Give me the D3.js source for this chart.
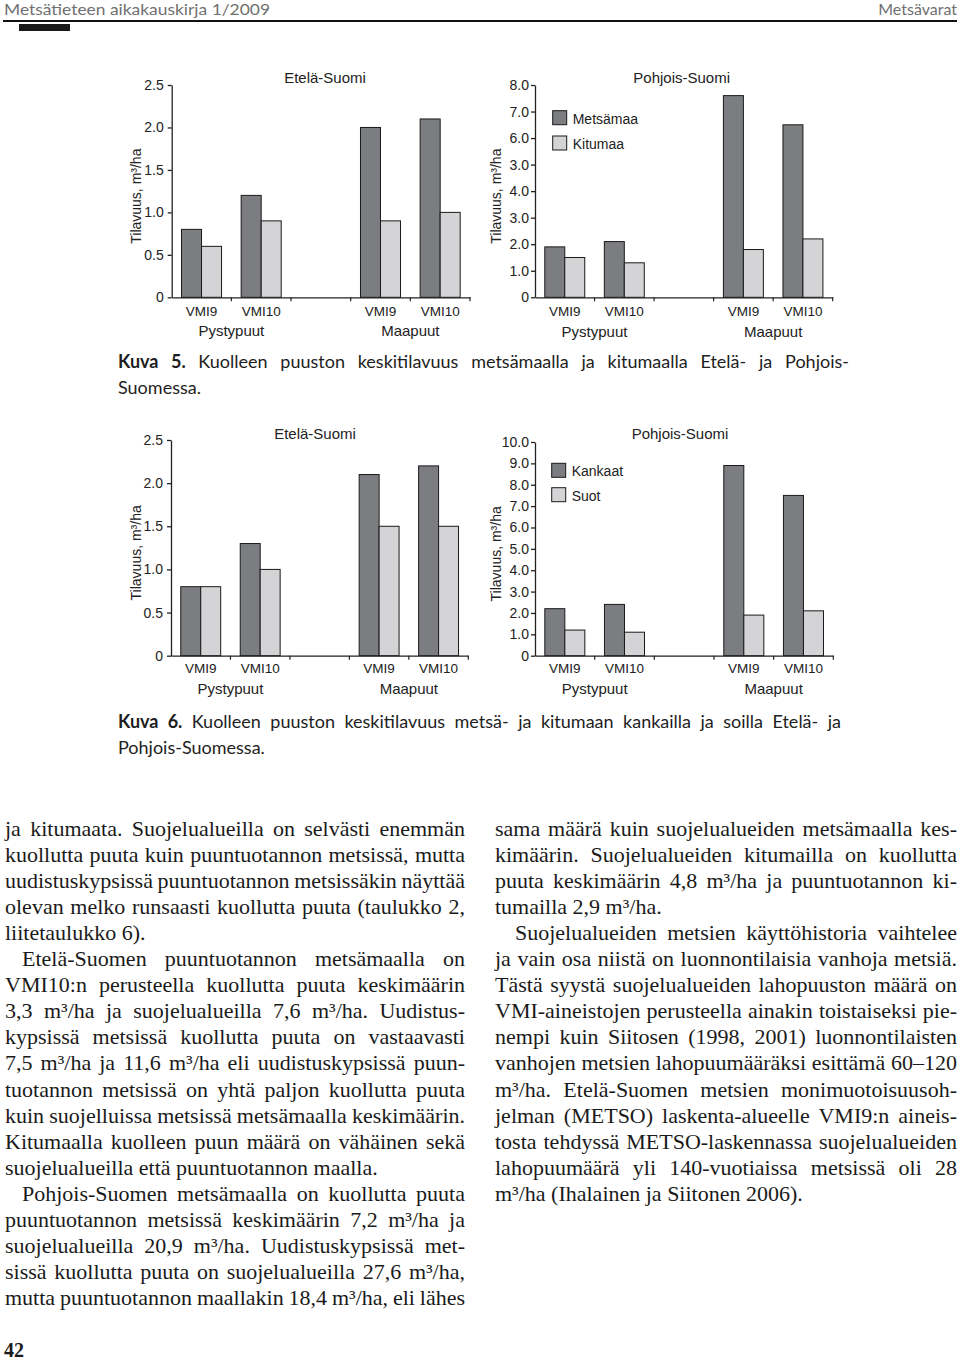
<!DOCTYPE html>
<html>
<head>
<meta charset="utf-8">
<script src="https://cdn.jsdelivr.net/npm/d3@7"></script>
<style>
  body { margin: 0; background: #fff; }
  svg { display: block; }
</style>
</head>
<body>
<svg id="page" width="960" height="1360"></svg>
<script>
// Category slots on the x axis (third slot is the empty gap between groups)
const slots = ['p9', 'p10', 'gap', 'm9', 'm10'];
const slotLabels = ['VMI9', 'VMI10', '', 'VMI9', 'VMI10'];
const groupLabels = ['Pystypuut', 'Maapuut'];
const groupSlots = [['p9', 'p10'], ['m9', 'm10']];

// Kuva 5: metsämaa / kitumaa, m³/ha
const k5EtelaMetsamaa = [0.8, 1.2, null, 2.0, 2.1];
const k5EtelaKitumaa = [0.6, 0.9, null, 0.9, 1.0];
const k5PohjoisMetsamaa = [1.9, 2.1, null, 7.6, 6.5];
const k5PohjoisKitumaa = [1.5, 1.3, null, 1.8, 2.2];
const k5Series = ['Metsämaa', 'Kitumaa'];

// Kuva 6: kankaat / suot, m³/ha
const k6EtelaKankaat = [0.8, 1.3, null, 2.1, 2.2];
const k6EtelaSuot = [0.8, 1.0, null, 1.5, 1.5];
const k6PohjoisKankaat = [2.2, 2.4, null, 8.9, 7.5];
const k6PohjoisSuot = [1.2, 1.1, null, 1.9, 2.1];
const k6Series = ['Kankaat', 'Suot'];

// Tick values and labels as printed (the "3.0" at 5 is in the original)
const etelaTicks = [0, 0.5, 1, 1.5, 2, 2.5];
const etelaTickLabels = ['0', '0.5', '1.0', '1.5', '2.0', '2.5'];
const k5PohjoisTicks = [0, 1, 2, 3, 4, 5, 6, 7, 8];
const k5PohjoisTickLabels = ['0', '1.0', '2.0', '3.0', '4.0', '3.0', '6.0', '7.0', '8.0'];
const k6PohjoisTicks = [0, 1, 2, 3, 4, 5, 6, 7, 8, 9, 10];
const k6PohjoisTickLabels = ['0', '1.0', '2.0', '3.0', '4.0', '5.0', '6.0', '7.0', '8.0', '9.0', '10.0'];

// Body text, line by line as set on the page
const leftColumn = [
  'ja kitumaata. Suojelualueilla on selvästi enemmän',
  'kuollutta puuta kuin puuntuotannon metsissä, mutta',
  'uudistuskypsissä puuntuotannon metsissäkin näyttää',
  'olevan melko runsaasti kuollutta puuta (taulukko 2,',
  'liitetaulukko 6).',
  'Etelä-Suomen puuntuotannon metsämaalla on',
  'VMI10:n perusteella kuollutta puuta keskimäärin',
  '3,3 m³/ha ja suojelualueilla 7,6 m³/ha. Uudistus-',
  'kypsissä metsissä kuollutta puuta on vastaavasti',
  '7,5 m³/ha ja 11,6 m³/ha eli uudistuskypsissä puun-',
  'tuotannon metsissä on yhtä paljon kuollutta puuta',
  'kuin suojelluissa metsissä metsämaalla keskimäärin.',
  'Kitumaalla kuolleen puun määrä on vähäinen sekä',
  'suojelualueilla että puuntuotannon maalla.',
  'Pohjois-Suomen metsämaalla on kuollutta puuta',
  'puuntuotannon metsissä keskimäärin 7,2 m³/ha ja',
  'suojelualueilla 20,9 m³/ha. Uudistuskypsissä met-',
  'sissä kuollutta puuta on suojelualueilla 27,6 m³/ha,',
  'mutta puuntuotannon maallakin 18,4 m³/ha, eli lähes'
];
const leftIndent = [5, 14];
const leftLast = [4, 13];

const rightColumn = [
  'sama määrä kuin suojelualueiden metsämaalla kes-',
  'kimäärin. Suojelualueiden kitumailla on kuollutta',
  'puuta keskimäärin 4,8 m³/ha ja puuntuotannon ki-',
  'tumailla 2,9 m³/ha.',
  'Suojelualueiden metsien käyttöhistoria vaihtelee',
  'ja vain osa niistä on luonnontilaisia vanhoja metsiä.',
  'Tästä syystä suojelualueiden lahopuuston määrä on',
  'VMI-aineistojen perusteella ainakin toistaiseksi pie-',
  'nempi kuin Siitosen (1998, 2001) luonnontilaisten',
  'vanhojen metsien lahopuumääräksi esittämä 60–120',
  'm³/ha. Etelä-Suomen metsien monimuotoisuusoh-',
  'jelman (METSO) laskenta-alueelle VMI9:n aineis-',
  'tosta tehdyssä METSO-laskennassa suojelualueiden',
  'lahopuumäärä yli 140-vuotiaissa metsissä oli 28',
  'm³/ha (Ihalainen ja Siitonen 2006).'
];
const rightIndent = [4];
const rightLast = [3, 14];

const svg = d3.select('#page');
const sans = '"Liberation Sans", Arial, sans-serif';
const serif = '"Liberation Serif", "Times New Roman", serif';
const caption = 'Lato, "Open Sans", sans-serif';
const seriesColors = ['#7c7d81', '#d4d4d6'];

// Page header
svg.append('text')
  .attr('x', 4).attr('y', 15)
  .attr('font-family', caption).attr('font-size', 16).attr('fill', '#707070')
  .attr('textLength', 266).attr('lengthAdjust', 'spacingAndGlyphs')
  .text('Metsätieteen aikakauskirja 1/2009');
svg.append('text')
  .attr('x', 957).attr('y', 15).attr('text-anchor', 'end')
  .attr('font-family', caption).attr('font-size', 16).attr('fill', '#707070')
  .text('Metsävarat');
svg.append('line')
  .attr('x1', 3).attr('x2', 957).attr('y1', 21).attr('y2', 21)
  .attr('stroke', '#111').attr('stroke-width', 2);
svg.append('rect')
  .attr('x', 19).attr('y', 24).attr('width', 51).attr('height', 7)
  .attr('fill', '#1a1a1a');

function drawChart(cfg) {
  const g = svg.append('g');
  const x = d3.scaleBand().domain(slots).range([cfg.left, cfg.right]);
  const xs = d3.scaleBand().domain([0, 1]).range([0, x.bandwidth()]).paddingOuter(0.49);
  const y = d3.scaleLinear().domain([0, cfg.yMax]).range([cfg.bottom, cfg.top]);

  // bars
  const bars = [];
  cfg.values.forEach((arr, s) => arr.forEach((v, i) => {
    if (v != null) bars.push({ slot: slots[i], s: s, v: v });
  }));
  g.append('g').selectAll('rect').data(bars).join('rect')
    .attr('x', d => x(d.slot) + xs(d.s))
    .attr('y', d => y(d.v))
    .attr('width', xs.bandwidth())
    .attr('height', d => y(0) - y(d.v))
    .attr('fill', d => seriesColors[d.s])
    .attr('stroke', '#1a1a1a')
    .attr('stroke-width', 1);

  // y axis
  const yAxis = g.append('g')
    .attr('transform', `translate(${cfg.left},0)`)
    .call(d3.axisLeft(y).tickValues(cfg.ticks)
      .tickFormat((d, i) => cfg.tickLabels[i])
      .tickSize(4).tickSizeOuter(0).tickPadding(cfg.tickPad));
  yAxis.selectAll('path, line').attr('stroke', '#222').attr('stroke-width', 1.3);
  yAxis.selectAll('text')
    .attr('font-family', sans).attr('font-size', 14).attr('fill', '#222');

  // x axis with slot labels
  const xAxis = g.append('g')
    .attr('transform', `translate(0,${cfg.bottom})`)
    .call(d3.axisBottom(x).tickSize(0).tickSizeOuter(0)
      .tickFormat((d, i) => slotLabels[i]));
  xAxis.select('.domain').attr('stroke', '#222').attr('stroke-width', 1.3);
  xAxis.selectAll('text')
    .attr('dy', null).attr('y', cfg.catY - cfg.bottom)
    .attr('font-family', sans).attr('font-size', 13.5).attr('fill', '#222');
  const bounds = slots.slice(1).map(s => x(s)).concat([cfg.right]);
  xAxis.selectAll('line.bound').data(bounds).join('line')
    .attr('class', 'bound')
    .attr('x1', d => d).attr('x2', d => d)
    .attr('y1', 0).attr('y2', 4)
    .attr('stroke', '#222').attr('stroke-width', 1.2);

  // group labels
  g.selectAll('text.group').data(groupLabels).join('text')
    .attr('class', 'group')
    .attr('x', (d, i) => (x(groupSlots[i][0]) + x(groupSlots[i][1]) + x.bandwidth()) / 2)
    .attr('y', cfg.groupY)
    .attr('text-anchor', 'middle')
    .attr('font-family', sans).attr('font-size', 15).attr('fill', '#222')
    .text(d => d);

  // title
  g.append('text')
    .attr('x', cfg.titleX).attr('y', cfg.titleY)
    .attr('text-anchor', 'middle')
    .attr('font-family', sans).attr('font-size', 15).attr('fill', '#222')
    .text(cfg.title);

  // y axis title
  const ty = (cfg.top + cfg.bottom) / 2 + 5;
  g.append('text')
    .attr('transform', `translate(${cfg.yTitleX},${ty}) rotate(-90)`)
    .attr('text-anchor', 'middle')
    .attr('dy', '0.35em')
    .attr('font-family', sans).attr('font-size', 14).attr('fill', '#222')
    .text('Tilavuus, m³/ha');

  // legend
  if (cfg.legend) {
    const lg = g.append('g').selectAll('g').data(cfg.legend).join('g')
      .attr('transform', (d, i) => `translate(${cfg.legendX},${cfg.legendY + i * cfg.legendStep})`);
    lg.append('rect')
      .attr('width', 14).attr('height', 14)
      .attr('fill', (d, i) => seriesColors[i])
      .attr('stroke', '#1a1a1a').attr('stroke-width', 1);
    lg.append('text')
      .attr('x', 20).attr('y', 13)
      .attr('font-family', sans).attr('font-size', 14).attr('fill', '#222')
      .text(d => d);
  }
}

drawChart({
  left: 171.7, right: 470, top: 85, bottom: 297.3, yMax: 2.5,
  ticks: etelaTicks, tickLabels: etelaTickLabels, tickPad: 4,
  values: [k5EtelaMetsamaa, k5EtelaKitumaa],
  title: 'Etelä-Suomi', titleX: 325, titleY: 83,
  yTitleX: 136.5, catY: 316, groupY: 336
});
drawChart({
  left: 535, right: 832.7, top: 85, bottom: 297.3, yMax: 8,
  ticks: k5PohjoisTicks, tickLabels: k5PohjoisTickLabels, tickPad: 2,
  values: [k5PohjoisMetsamaa, k5PohjoisKitumaa],
  title: 'Pohjois-Suomi', titleX: 681.7, titleY: 83,
  yTitleX: 496, catY: 316.5, groupY: 336.5,
  legend: k5Series, legendX: 552.7, legendY: 110.7, legendStep: 25.3
});
drawChart({
  left: 171, right: 468.3, top: 440, bottom: 655.7, yMax: 2.5,
  ticks: etelaTicks, tickLabels: etelaTickLabels, tickPad: 4,
  values: [k6EtelaKankaat, k6EtelaSuot],
  title: 'Etelä-Suomi', titleX: 315, titleY: 439,
  yTitleX: 136, catY: 673.5, groupY: 694
});
drawChart({
  left: 535, right: 833.3, top: 442, bottom: 655.7, yMax: 10,
  ticks: k6PohjoisTicks, tickLabels: k6PohjoisTickLabels, tickPad: 2,
  values: [k6PohjoisKankaat, k6PohjoisSuot],
  title: 'Pohjois-Suomi', titleX: 680, titleY: 439,
  yTitleX: 496, catY: 673.5, groupY: 694,
  legend: k6Series, legendX: 551.7, legendY: 463.3, legendStep: 24.4
});

// justify a text element to the given width by widening word gaps
function justify(t, str, width) {
  const natural = t.node().getComputedTextLength();
  const gaps = (str.match(/ /g) || []).length;
  if (gaps) t.style('word-spacing', ((width - natural) / gaps) + 'px');
}

// figure captions
function figCaption(label, line1, line2, x0, y0, width) {
  const t = svg.append('text')
    .attr('x', x0).attr('y', y0)
    .attr('font-family', caption).attr('font-size', 18).attr('fill', '#1e1e1e');
  t.append('tspan').attr('font-weight', 'bold').text(label + ' ');
  t.append('tspan').text(line1);
  justify(t, label + ' ' + line1, width);
  svg.append('text')
    .attr('x', x0).attr('y', y0 + 25.5)
    .attr('font-family', caption).attr('font-size', 18).attr('fill', '#1e1e1e')
    .text(line2);
}
figCaption('Kuva 5.', 'Kuolleen puuston keskitilavuus metsämaalla ja kitumaalla Etelä- ja Pohjois-',
  'Suomessa.', 118, 368, 731);
figCaption('Kuva 6.', 'Kuolleen puuston keskitilavuus metsä- ja kitumaan kankailla ja soilla Etelä- ja',
  'Pohjois-Suomessa.', 118, 728, 723);

// body columns
function column(lines, indents, lasts, x0, width, y0, lead, indentPx) {
  lines.forEach((line, i) => {
    const ind = indents.includes(i) ? indentPx : 0;
    const t = svg.append('text')
      .attr('x', x0 + ind).attr('y', y0 + i * lead)
      .attr('font-family', serif).attr('font-size', 22).attr('fill', '#1a1a1a')
      .text(line);
    if (!lasts.includes(i)) justify(t, line, width - ind);
  });
}
column(leftColumn, leftIndent, leftLast, 5, 460, 835.5, 26.1, 17);
column(rightColumn, rightIndent, rightLast, 495, 462, 835.5, 26.1, 20);

// page number
svg.append('text')
  .attr('x', 4).attr('y', 1357)
  .attr('font-family', serif).attr('font-size', 20).attr('font-weight', 'bold')
  .attr('fill', '#1a1a1a')
  .text('42');
</script>
</body>
</html>
